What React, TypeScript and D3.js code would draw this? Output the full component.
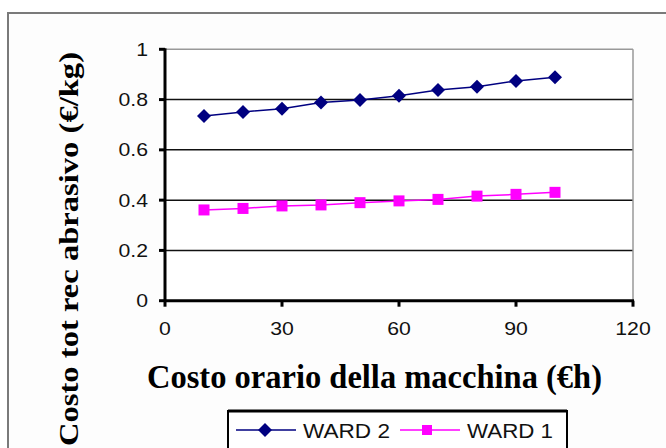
import React from "react";
import * as d3 from "d3";

const xValues = [10, 20, 30, 40, 50, 60, 70, 80, 90, 100];
const ward2 = [0.735, 0.751, 0.764, 0.788, 0.798, 0.815, 0.838, 0.851, 0.874, 0.889];
const ward1 = [0.361, 0.367, 0.377, 0.381, 0.39, 0.397, 0.403, 0.416, 0.423, 0.431];
const xTicks = [0, 30, 60, 90, 120];
const yTicks = [0, 0.2, 0.4, 0.6, 0.8, 1];
const seriesNames = ["WARD 2", "WARD 1"];
const xTitle = "Costo orario della macchina (€h)";
const yTitle = "Costo tot rec abrasivo (€/kg)";

const W = 666;
const H = 448;
const left = 165;
const right = 633;
const top = 49.3;
const bottom = 300.7;

export default function App() {
  const x = d3.scaleLinear().domain([0, 120]).range([left, right]);
  const y = d3.scaleLinear().domain([0, 1]).range([bottom, top]);
  const line = d3
    .line<number>()
    .x((_, i) => x(xValues[i]))
    .y((d) => y(d));

  const diamond = (cx: number, cy: number, r: number) =>
    `M${cx},${cy - r}L${cx + r},${cy}L${cx},${cy + r}L${cx - r},${cy}Z`;

  const fontSans = "Arial, 'Liberation Sans', sans-serif";
  const fontSerif = "'Times New Roman', 'Liberation Serif', serif";

  return (
    <svg
      width={W}
      height={H}
      style={{ position: "absolute", left: 0, top: 0, background: "#fff" }}
    >
      {/* outer chart area */}
      <rect x={8} y={13} width={W} height={H} fill="#fdfdfd" stroke="#7a7a7a" strokeWidth={2} />
      {/* plot area */}
      <rect x={left} y={top} width={right - left} height={bottom - top} fill="#fff" />
      {/* gridlines */}
      {yTicks
        .filter((t) => t > 0 && t < 1)
        .map((t) => (
          <line key={t} x1={left} x2={right} y1={y(t)} y2={y(t)} stroke="#111" strokeWidth={1.5} />
        ))}
      {/* plot border top/right */}
      <line x1={left} x2={right} y1={top} y2={top} stroke="#999" strokeWidth={1.5} />
      <line x1={right} x2={right} y1={top} y2={bottom} stroke="#999" strokeWidth={1.5} />
      {/* axes */}
      <line x1={left} x2={left} y1={top - 1} y2={bottom + 1} stroke="#000" strokeWidth={3} />
      <line x1={left - 1} x2={right + 1} y1={bottom} y2={bottom} stroke="#000" strokeWidth={3} />
      {yTicks.map((t) => (
        <g key={"y" + t}>
          <line x1={left - 6} x2={left} y1={y(t)} y2={y(t)} stroke="#000" strokeWidth={3} />
          <g transform={`translate(${left - 17},${y(t)}) scale(1.18,1)`}>
            <text
              x={0}
              y={0}
              textAnchor="end"
              dominantBaseline="central"
              fontFamily={fontSans}
              fontSize={18}
              fill="#111"
            >
              {d3.format("")(t)}
            </text>
          </g>
        </g>
      ))}
      {xTicks.map((t) => (
        <g key={"x" + t}>
          <line x1={x(t)} x2={x(t)} y1={bottom} y2={bottom + 6} stroke="#000" strokeWidth={3} />
          <g transform={`translate(${x(t)},${328.5}) scale(1.18,1)`}>
            <text
              x={0}
              y={0}
              textAnchor="middle"
              dominantBaseline="central"
              fontFamily={fontSans}
              fontSize={18}
              fill="#111"
            >
              {t}
            </text>
          </g>
        </g>
      ))}
      {/* series */}
      <path d={line(ward2) || ""} fill="none" stroke="#000080" strokeWidth={1.5} />
      {ward2.map((v, i) => (
        <path key={"d" + i} d={diamond(x(xValues[i]), y(v), 7)} fill="#000080" />
      ))}
      <path d={line(ward1) || ""} fill="none" stroke="#ff00ff" strokeWidth={1.5} />
      {ward1.map((v, i) => (
        <rect
          key={"s" + i}
          x={x(xValues[i]) - 5.5}
          y={y(v) - 5.5}
          width={11}
          height={11}
          fill="#ff00ff"
        />
      ))}
      {/* axis titles */}
      <text
        x={147}
        y={388}
        fontFamily={fontSerif}
        fontWeight="bold"
        fontSize={34}
        textLength={455}
        lengthAdjust="spacingAndGlyphs"
        fill="#000"
      >
        {xTitle}
      </text>
      <text
        transform={`translate(77.5,446) rotate(-90)`}
        x={0}
        y={0}
        fontFamily={fontSerif}
        fontWeight="bold"
        fontSize={27}
        textLength={394}
        lengthAdjust="spacingAndGlyphs"
        fill="#000"
      >
        {yTitle}
      </text>
      {/* legend */}
      <rect x={228} y={411} width={339} height={60} fill="#fff" stroke="#000" strokeWidth={2} />
      <line x1={228} x2={567} y1={411} y2={411} stroke="#000" strokeWidth={3} />
      <line x1={236} x2={296} y1={430} y2={430} stroke="#000080" strokeWidth={1.5} />
      <path d={diamond(265, 430, 7)} fill="#000080" />
      <text
        x={303}
        y={430}
        dominantBaseline="central"
        fontFamily={fontSans}
        fontSize={21}
        textLength={87}
        lengthAdjust="spacingAndGlyphs"
        fill="#111"
      >
        {seriesNames[0]}
      </text>
      <line x1={400} x2={460} y1={430} y2={430} stroke="#ff00ff" strokeWidth={1.5} />
      <rect x={422} y={425} width={10} height={10} fill="#ff00ff" />
      <text
        x={467}
        y={430}
        dominantBaseline="central"
        fontFamily={fontSans}
        fontSize={21}
        textLength={86}
        lengthAdjust="spacingAndGlyphs"
        fill="#111"
      >
        {seriesNames[1]}
      </text>
    </svg>
  );
}
